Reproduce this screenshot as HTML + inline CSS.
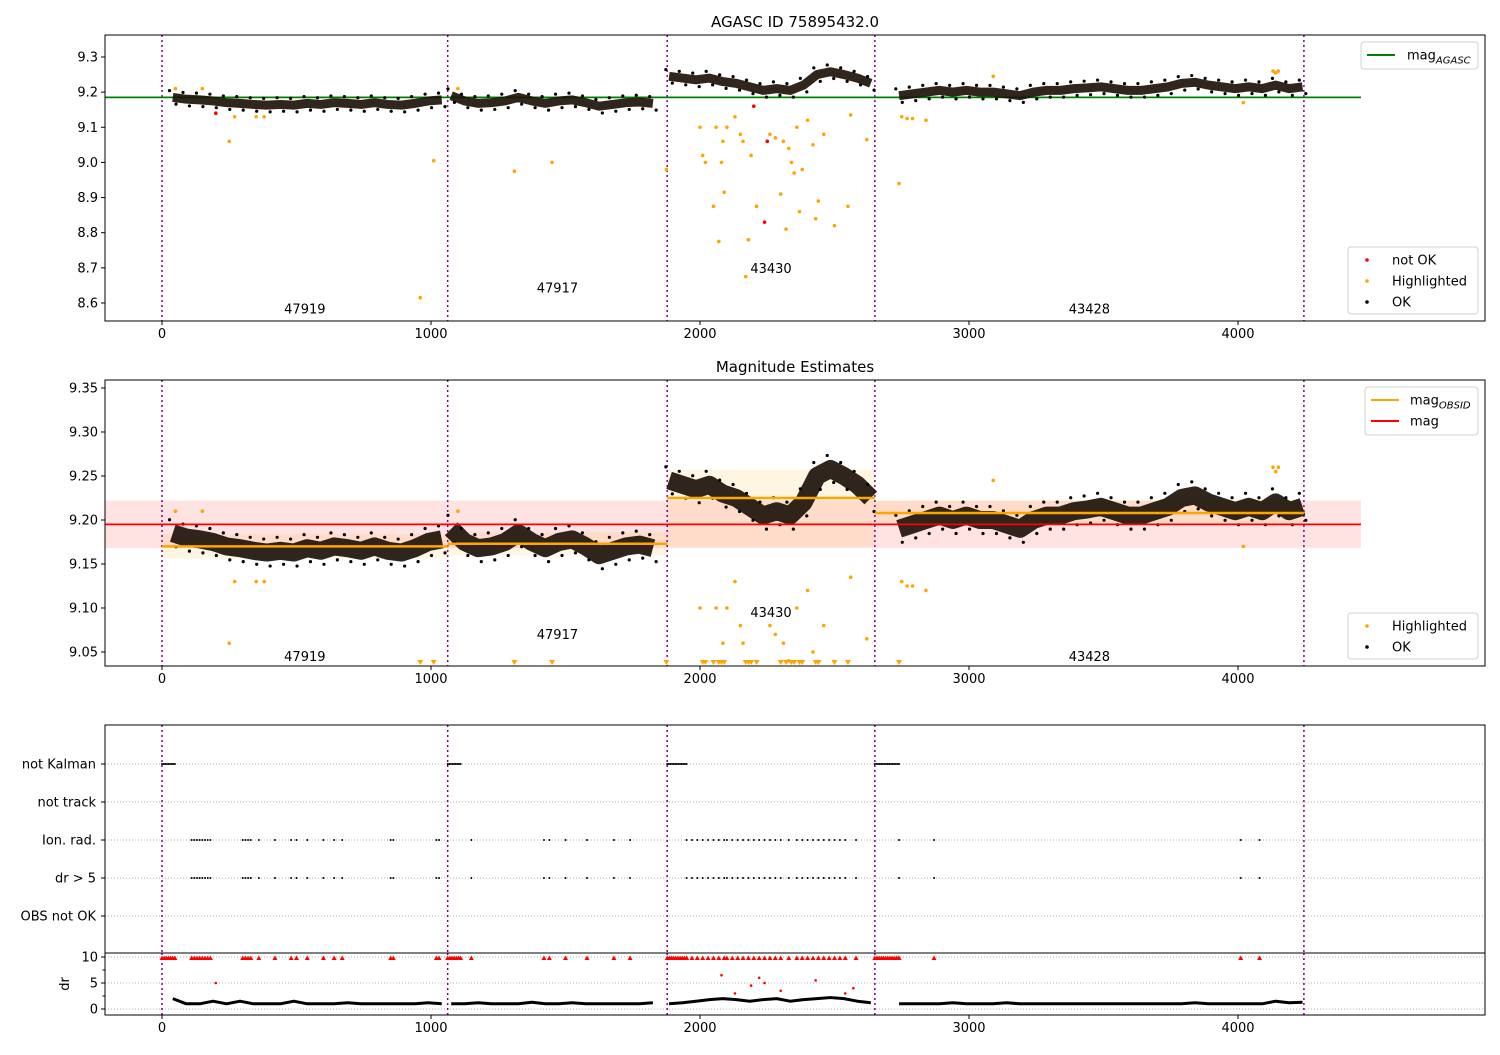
<!DOCTYPE html>
<html><head><meta charset="utf-8">
<style>
body{margin:0;background:#fff;font-family:"Liberation Sans","DejaVu Sans",sans-serif;}
svg text{font-family:"DejaVu Sans","Liberation Sans",sans-serif;font-size:13px;fill:#000;}
</style></head>
<body>
<svg id="chart" width="1500" height="1050" viewBox="0 0 1500 1050" xmlns="http://www.w3.org/2000/svg"></svg>
<script>
// ---- data ----
const obsids = ["47919","47917","43430","43428"];
const obsStart = [40,1075,1885,2740];
const obsBounds = [0,1062,1878,2650,4245];
const mag47919 = [9.185,9.18,9.178,9.175,9.17,9.168,9.165,9.163,9.165,9.163,9.168,9.165,9.17,9.168,9.165,9.17,9.165,9.163,9.168,9.175,9.178];
const mag47917 = [9.19,9.175,9.168,9.17,9.175,9.185,9.175,9.168,9.175,9.178,9.17,9.16,9.165,9.17,9.172,9.168];
const mag43430 = [9.245,9.24,9.235,9.24,9.23,9.225,9.215,9.205,9.21,9.205,9.22,9.25,9.258,9.25,9.24,9.225];
const mag43428 = [9.19,9.195,9.2,9.205,9.2,9.205,9.2,9.2,9.195,9.19,9.2,9.205,9.205,9.21,9.212,9.215,9.21,9.205,9.205,9.21,9.215,9.225,9.228,9.22,9.215,9.21,9.215,9.21,9.22,9.21,9.215];
const obsMag = [9.170,9.173,9.225,9.208];
const obsBandLo = [9.156,9.160,9.170,9.195];
const obsBandHi = [9.184,9.186,9.257,9.222];
const magAgasc = 9.185;
const magMean = 9.195, magBandLo = 9.168, magBandHi = 9.222;
const hlT = [50,150,250,270,350,380,960,1010,1100,1310,1450,1875,2000,2010,2020,2050,2060,2070,2080,2085,2090,2100,2130,2150,2160,2170,2180,2190,2210,2260,2280,2300,2310,2320,2330,2340,2350,2360,2370,2380,2400,2420,2430,2440,2460,2500,2550,2560,2620,2740,2750,2770,2790,2840,3090,4020,4130,4140,4150];
const hlM = [9.21,9.21,9.06,9.13,9.13,9.13,8.615,9.005,9.21,8.975,9.0,8.98,9.1,9.02,9.0,8.875,9.1,8.775,9.0,9.06,8.915,9.1,9.13,9.08,9.06,8.675,8.78,9.02,8.875,9.08,9.07,8.91,9.06,8.81,9.04,9.0,8.97,9.1,8.86,8.98,9.12,9.05,8.84,8.89,9.08,8.82,8.875,9.135,9.065,8.94,9.13,9.125,9.125,9.12,9.245,9.17,9.26,9.255,9.26];
const badT = [200,2200,2240,2250];
const badM = [9.14,9.16,8.83,9.06];
const categories = ["OBS not OK","dr > 5","Ion. rad.","not track","not Kalman"];
const kalmanStart = [0,1062,1878,2650];
const kalmanEnd = [50,1110,1950,2740];
const flagT = [110,120,130,140,150,160,170,180,300,310,320,330,360,420,480,500,540,600,640,670,850,860,1020,1030,1150,1420,1440,1500,1580,1680,1740,1950,1970,1990,2010,2030,2050,2070,2090,2100,2120,2140,2160,2180,2200,2220,2240,2260,2280,2300,2330,2360,2380,2400,2420,2440,2460,2480,2500,2520,2540,2580,2740,2870,4010,4080];
const drStart = [40,1075,1885,2740];
const dr47919 = [2,1,1,1.5,1,1.5,1,1,1,1.5,1,1,1,1.2,1,1,1,1,1,1.2,1];
const dr47917 = [1,1,1.2,1,1,1,1.3,1,1,1.2,1,1,1,1,1,1.2];
const dr43430 = [1,1.2,1.5,1.8,2,1.8,1.5,1.8,2,1.5,1.8,2,2.2,2,1.5,1.2];
const dr43428 = [1,1,1,1,1.2,1,1,1,1.2,1,1,1,1,1,1,1,1,1,1,1,1,1,1.2,1,1,1,1,1,1.5,1.2,1.3];
const drRedT = [200,2080,2130,2190,2220,2240,2300,2430,2540,2570];
const drRedV = [5,6.5,3,4.5,6,5,3.5,5.5,3,4];
const xTicks = [0,1000,2000,3000,4000];
const y1Ticks = [8.6,8.7,8.8,8.9,9.0,9.1,9.2,9.3];
const y2Ticks = [9.05,9.10,9.15,9.20,9.25,9.30,9.35];
const y4Ticks = [0,5,10];
const labelYs1 = [8.57,8.63,8.685,8.57];
const labelYs2 = [9.04,9.065,9.09,9.04];

// ---- scales ----
const xs = t => 162 + t*0.269;
const y1 = m => 57 + (9.3-m)*351.4;
const y2 = m => 388 + (9.35-m)*880;
const y3 = i => 916 - i*38;
const y4 = v => 1009 - v*5.2;
const L=105,R=1485;
const svg = document.getElementById('chart');
const NS="http://www.w3.org/2000/svg";
function mk(tag, attrs, parent){const e=document.createElementNS(NS,tag);for(const k in attrs)e.setAttribute(k,attrs[k]);(parent||svg).appendChild(e);return e;}
const magArrs=[mag47919,mag47917,mag43430,mag43428];
const drArrs=[dr47919,dr47917,dr43430,dr43428];

const defs=mk('defs',{});
[[35,321],[380,666],[725,953],[953,1015]].forEach((p,i)=>{const c=mk('clipPath',{id:'c'+i},defs);mk('rect',{x:L,y:p[0],width:R-L,height:p[1]-p[0]},c);});

function panel(top,bot,name,clip){
  const g=mk('g',{'clip-path':'url(#'+clip+')'});
  
  
  return g;
}
function frame(top,bot,name){const r=mk('rect',{x:L,y:top,width:R-L,height:bot-top,fill:'none',stroke:'#000','stroke-width':1});
  }
function xAxis(bot,name){
  const g=mk('g',{});
  xTicks.forEach(t=>{mk('line',{x1:xs(t),x2:xs(t),y1:bot,y2:bot+4,stroke:'#000'},g);const tx=mk('text',{x:xs(t),y:bot+17,'text-anchor':'middle'},g);tx.textContent=t;});
}
function yAxis(ticks,fy,fmt,name){
  const g=mk('g',{});
  ticks.forEach(v=>{mk('line',{x1:L-4,x2:L,y1:fy(v),y2:fy(v),stroke:'#000'},g);const tx=mk('text',{x:L-7,y:fy(v)+4.5,'text-anchor':'end'},g);tx.textContent=fmt(v);});
}
function vlines(g,top,bot){obsBounds.forEach(b=>{const l=mk('line',{x1:xs(b),x2:xs(b),y1:top,y2:bot,stroke:'#800080','stroke-width':1.5,'stroke-dasharray':'2,3'},g);});}
function magSeries(g,fy,w){
  magArrs.forEach((arr,k)=>{
    const pts=arr.map((m,i)=>xs(obsStart[k]+i*50)+','+fy(m)).join(' ');
    const pl=mk('polyline',{points:pts,fill:'none',stroke:'#1a0e05','stroke-width':w,'stroke-linejoin':'round','stroke-linecap':'butt',opacity:0.9},g);
    
    arr.forEach((m,i)=>{[-1,1].forEach(s=>{const c=mk('circle',{cx:xs(obsStart[k]+i*50+s*12),cy:fy(m)+s*w*0.75,r:1.6,fill:'#000'},g);});});
  });
}
function obsLabels(g,ys,fy){obsids.forEach((o,k)=>{const t=mk('text',{x:xs((obsBounds[k]+obsBounds[k+1])/2),y:fy(ys[k]),'text-anchor':'middle'},g);t.textContent=o;});}

// ---- Panel 1 ----
{const t=mk('text',{x:795,y:27,'text-anchor':'middle',style:'font-size:15px'});t.textContent='AGASC ID 75895432.0';}
const g1=panel(35,321,'agasc','c0');
vlines(g1,35,321);
{const l=mk('line',{x1:xs(-212),x2:xs(4457),y1:y1(magAgasc),y2:y1(magAgasc),stroke:'#008000','stroke-width':1.8},g1);}
magSeries(g1,y1,9);
hlT.forEach((t,i)=>{const c=mk('circle',{cx:xs(t),cy:y1(hlM[i]),r:1.8,fill:'#ffa500'},g1);});
badT.forEach((t,i)=>{const c=mk('circle',{cx:xs(t),cy:y1(badM[i]),r:1.8,fill:'#ff0000'},g1);});
obsLabels(g1,labelYs1,y1);
frame(35,321,'agasc');xAxis(321,'agasc');yAxis(y1Ticks,y1,v=>v.toFixed(1),'agasc');

// ---- Panel 2 ----
{const t=mk('text',{x:795,y:372,'text-anchor':'middle',style:'font-size:15px'});t.textContent='Magnitude Estimates';}
const g2=panel(380,666,'estimates','c1');
{const r=mk('rect',{x:xs(-212),y:y2(magBandHi),width:xs(4457)-xs(-212),height:y2(magBandLo)-y2(magBandHi),fill:'#ff0000',opacity:0.11},g2);}
obsMag.forEach((m,k)=>{const x0=xs(obsBounds[k]),x1=xs(obsBounds[k+1]);
  const r=mk('rect',{x:x0,y:y2(obsBandHi[k]),width:x1-x0,height:y2(obsBandLo[k])-y2(obsBandHi[k]),fill:'#ffa500',opacity:0.11},g2);});
vlines(g2,380,666);
magSeries(g2,y2,18);
{const l=mk('line',{x1:xs(-212),x2:xs(4457),y1:y2(magMean),y2:y2(magMean),stroke:'#ff0000','stroke-width':1.8},g2);}
obsMag.forEach((m,k)=>{const l=mk('line',{x1:xs(obsBounds[k]),x2:xs(obsBounds[k+1]),y1:y2(m),y2:y2(m),stroke:'#ffa500','stroke-width':2.5},g2);});
hlT.forEach((t,i)=>{let e;if(hlM[i]<9.036){const x=xs(t),y=663;e=mk('polygon',{points:`${x-3},${y-3} ${x+3},${y-3} ${x},${y+2}`,fill:'#ffa500'},g2);}else e=mk('circle',{cx:xs(t),cy:y2(hlM[i]),r:1.8,fill:'#ffa500'},g2);});
obsLabels(g2,labelYs2,y2);
frame(380,666,'estimates');xAxis(666,'estimates');yAxis(y2Ticks,y2,v=>v.toFixed(2),'estimates');

// ---- Panel 3 ----
const g3=panel(725,953,'flags','c2');
categories.forEach((c,i)=>{const l=mk('line',{x1:L,x2:R,y1:y3(i),y2:y3(i),stroke:'#b0b0b0','stroke-dasharray':'1,2'},g3);});
vlines(g3,725,953);
kalmanStart.forEach((s,k)=>{for(let t=s;t<=kalmanEnd[k];t+=6){const c=mk('circle',{cx:xs(t),cy:y3(4),r:1,fill:'#000'},g3);}});
flagT.forEach(t=>{[1,2].forEach(i=>{const c=mk('circle',{cx:xs(t),cy:y3(i),r:1,fill:'#000'},g3);});});
frame(725,953,'flags');
{const g=mk('g',{});
categories.forEach((c,i)=>{mk('line',{x1:L-4,x2:L,y1:y3(i),y2:y3(i),stroke:'#000'},g);const t=mk('text',{x:L-9,y:y3(i)+4.5,'text-anchor':'end'},g);t.textContent=c;});}

// ---- Panel 4 ----
const g4=panel(953,1015,'dr','c3');
y4Ticks.forEach(v=>{mk('line',{x1:L,x2:R,y1:y4(v),y2:y4(v),stroke:'#b0b0b0','stroke-dasharray':'1,2'},g4);});
vlines(g4,953,1015);
drArrs.forEach((arr,k)=>{const pts=arr.map((v,i)=>xs(drStart[k]+i*50)+','+y4(v)).join(' ');const pl=mk('polyline',{points:pts,fill:'none',stroke:'#000','stroke-width':3,'stroke-linejoin':'round'},g4);});
drRedT.forEach((t,i)=>{const c=mk('circle',{cx:xs(t),cy:y4(drRedV[i]),r:1.3,fill:'#ff0000'},g4);});
const redTri=t=>{const x=xs(t),y=y4(9.8);const p=mk('polygon',{points:`${x-2.5},${y+2} ${x+2.5},${y+2} ${x},${y-2.5}`,fill:'#ff0000'},g4);};
flagT.forEach(redTri);
kalmanStart.forEach((s,k)=>{for(let t=s;t<=kalmanEnd[k];t+=8)redTri(t);});
frame(953,1015,'dr');xAxis(1015,'dr');yAxis(y4Ticks,y4,v=>v,'dr');
[2.5,7.5].forEach(v=>mk('line',{x1:L-2.5,x2:L,y1:y4(v),y2:y4(v),stroke:'#000'}));
{const t=mk('text',{x:0,y:0,'text-anchor':'middle',transform:'translate(69,984) rotate(-90)'});t.textContent='dr';}

// ---- legends ----
function legend(x,y,w,h,items,name){
  const g=mk('g',{});
  mk('rect',{x,y,width:w,height:h,rx:3,fill:'#fff','fill-opacity':0.8,stroke:'#d0d0d0'},g);
  items.forEach((it,i)=>{const cy=y+13+i*21;
    if(it.type=='line')mk('line',{x1:x+6,x2:x+34,y1:cy,y2:cy,stroke:it.color,'stroke-width':2},g);
    else mk('circle',{cx:x+19,cy,r:1.8,fill:it.color},g);
    const t=mk('text',{x:x+it.tx,y:cy+4.5},g);t.innerHTML=it.label;});
}
legend(1361,42,117,27,[{type:'line',color:'#008000',tx:46,label:'mag<tspan dy="4" style="font-size:10px;font-style:italic">AGASC</tspan>'}],'agasc-line-legend');
legend(1348,247,130,67,[{type:'dot',color:'#ff0000',tx:44,label:'not OK'},{type:'dot',color:'#ffa500',tx:44,label:'Highlighted'},{type:'dot',color:'#000',tx:44,label:'OK'}],'agasc-point-legend');
legend(1365,387,113,48,[{type:'line',color:'#ffa500',tx:45,label:'mag<tspan dy="4" style="font-size:10px;font-style:italic">OBSID</tspan>'},{type:'line',color:'#ff0000',tx:45,label:'mag'}],'estimates-line-legend');
legend(1348,613,130,46,[{type:'dot',color:'#ffa500',tx:44,label:'Highlighted'},{type:'dot',color:'#000',tx:44,label:'OK'}],'estimates-point-legend');
</script>
</body></html>
